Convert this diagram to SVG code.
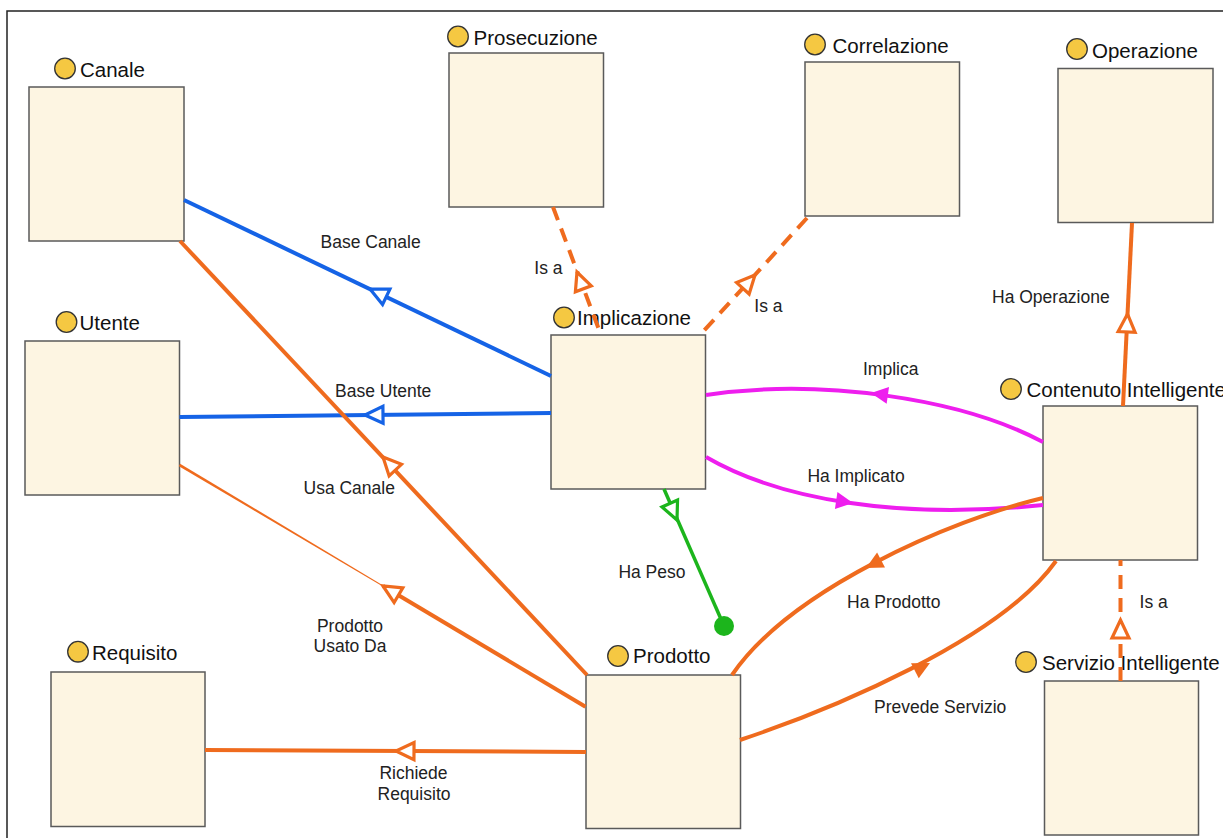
<svg xmlns="http://www.w3.org/2000/svg" width="1223" height="838" viewBox="0 0 1223 838">
<style>
.box{fill:#FDF5E2;stroke:#5a5a5a;stroke-width:1.5}
.dot{fill:#F5C842;stroke:#333;stroke-width:1.3}
.title{font-family:"Liberation Sans",Arial,sans-serif;font-size:20.5px;fill:#111}
.lbl{font-family:"Liberation Sans",Arial,sans-serif;font-size:17.5px;fill:#222}
.or{fill:none;stroke:#EF6B1E;stroke-width:4}
.dash{stroke-dasharray:14 9}
.bl{fill:none;stroke:#1563E6;stroke-width:4}
.mg{fill:none;stroke:#EE1EEE;stroke-width:4}
.gr{fill:none;stroke:#1CB51C;stroke-width:3.5}
.oaO{fill:#fff;stroke:#EF6B1E;stroke-width:3.2}
.oaB{fill:#fff;stroke:#1563E6;stroke-width:3.2}
.oaG{fill:#fff;stroke:#1CB51C;stroke-width:3.2}
.faO{fill:#EF6B1E;stroke:none}
.faM{fill:#EE1EEE;stroke:none}
</style>
<defs>
<path id="oa" d="M0,0 L-18,-8.5 L-18,8.5 Z"/>
<path id="fa" d="M0,0 L-17,-8.5 L-17,8.5 Z"/>
</defs>
<rect x="7" y="11" width="1240" height="850" fill="#fff" stroke="#222" stroke-width="1.5"/>

<g id="node-canale"><rect class="box" x="29" y="87" width="155" height="154"/><circle class="dot" cx="65" cy="68.5" r="10.3"/><text class="title" x="80" y="77">Canale</text></g>
<g id="node-prosecuzione"><rect class="box" x="449" y="53" width="154.5" height="154"/><circle class="dot" cx="458" cy="36.5" r="10.3"/><text class="title" x="473.5" y="44.5">Prosecuzione</text></g>
<g id="node-correlazione"><rect class="box" x="805" y="62" width="154.5" height="154"/><circle class="dot" cx="815" cy="44.5" r="10.3"/><text class="title" x="832.5" y="52.5">Correlazione</text></g>
<g id="node-operazione"><rect class="box" x="1058" y="68.5" width="155" height="154"/><circle class="dot" cx="1077" cy="49" r="10.3"/><text class="title" x="1092" y="57.5">Operazione</text></g>
<g id="node-utente"><rect class="box" x="25" y="341" width="154.5" height="154"/><circle class="dot" cx="66.5" cy="322" r="10.3"/><text class="title" x="79.5" y="330">Utente</text></g>
<g id="node-implicazione"><rect class="box" x="551" y="335" width="154.5" height="154"/><circle class="dot" cx="564" cy="317.5" r="10.3"/><text class="title" x="577" y="325">Implicazione</text></g>
<g id="node-contenuto"><rect class="box" x="1043" y="406" width="154.5" height="154"/><circle class="dot" cx="1011" cy="389" r="10.3"/><text class="title" x="1026.5" y="397">Contenuto Intelligente</text></g>
<g id="node-servizio"><rect class="box" x="1044.5" y="681" width="154" height="154"/><circle class="dot" cx="1026" cy="662" r="10.3"/><text class="title" x="1042" y="670">Servizio Intelligente</text></g>
<g id="node-prodotto"><rect class="box" x="586" y="675" width="154.5" height="153.5"/><circle class="dot" cx="618" cy="656" r="10.3"/><text class="title" x="633" y="663">Prodotto</text></g>
<g id="node-requisito"><rect class="box" x="51" y="672" width="154" height="154.5"/><circle class="dot" cx="78" cy="651.7" r="10.3"/><text class="title" x="92" y="660">Requisito</text></g>

<g id="connectors">
<!-- Base Canale -->
<path class="bl" d="M184,200 L551,376"/>
<use href="#oa" class="oaB" transform="translate(370,289) rotate(205.6)"/>
<text class="lbl" x="320.5" y="248">Base Canale</text>
<!-- Base Utente -->
<path class="bl" d="M179.5,417 L551,413"/>
<use href="#oa" class="oaB" transform="translate(365,415) rotate(179.4)"/>
<text class="lbl" x="335" y="396.5">Base Utente</text>
<!-- Usa Canale -->
<path class="or" d="M180,241 L587,675"/>
<use href="#oa" class="oaO" transform="translate(383,457) rotate(226.8)"/>
<text class="lbl" x="303.5" y="493.5">Usa Canale</text>
<!-- Prodotto Usato Da -->
<path fill="#EF6B1E" d="M180.1,463.8 L383.2,585.6 L382.8,586.4 L178.9,466.2 Z"/>
<path class="or" d="M383,586 L585.5,706.7"/>
<use href="#oa" class="oaO" transform="translate(383,586) rotate(210.8)"/>
<text class="lbl" x="350" y="631.5" text-anchor="middle">Prodotto</text>
<text class="lbl" x="350" y="652.3" text-anchor="middle">Usato Da</text>
<!-- Richiede Requisito -->
<path class="or" d="M586,752 L205,750"/>
<use href="#oa" class="oaO" transform="translate(396,751) rotate(180.3)"/>
<text class="lbl" x="413.5" y="779" text-anchor="middle">Richiede</text>
<text class="lbl" x="414" y="799.5" text-anchor="middle">Requisito</text>
<!-- Is a Prosecuzione -->
<path class="or dash" d="M553,207 L601,335"/>
<use href="#oa" class="oaO" transform="translate(577,272) rotate(249.4)"/>
<text class="lbl" x="534.3" y="274">Is a</text>
<!-- Is a Correlazione -->
<path class="or dash" d="M807,218 L700,335"/>
<use href="#oa" class="oaO" transform="translate(755,275) rotate(-47.6)"/>
<text class="lbl" x="754.3" y="311.7">Is a</text>
<!-- Ha Operazione -->
<path class="or" d="M1123,406 L1132,223"/>
<use href="#oa" class="oaO" transform="translate(1127.5,314) rotate(-87.2)"/>
<text class="lbl" x="992" y="303.3">Ha Operazione</text>
<!-- Implica -->
<path class="mg" d="M1043,442 C960,398 820,378 706,395"/>
<use href="#fa" class="faM" transform="translate(871,393) rotate(188)"/>
<text class="lbl" x="863" y="375">Implica</text>
<!-- Ha Implicato -->
<path class="mg" d="M706,457 C780,500 900,520 1043,505"/>
<use href="#fa" class="faM" transform="translate(853,503) rotate(8.5)"/>
<text class="lbl" x="807.4" y="481.7">Ha Implicato</text>
<!-- Ha Peso -->
<path class="gr" d="M664,489 L724,626"/>
<circle cx="724" cy="626" r="10" fill="#1CB51C"/>
<use href="#oa" class="oaG" transform="translate(677,520) rotate(66.3)"/>
<text class="lbl" x="618.4" y="578">Ha Peso</text>
<!-- Ha Prodotto -->
<path class="or" d="M1043,498 C950,520 790,590 732,675"/>
<use href="#fa" class="faO" transform="translate(866,568) rotate(152.3)"/>
<text class="lbl" x="847" y="607.7">Ha Prodotto</text>
<!-- Prevede Servizio -->
<path class="or" d="M740,740 C830,710 1000,640 1056,561"/>
<use href="#fa" class="faO" transform="translate(930,663) rotate(-27.1)"/>
<text class="lbl" x="874" y="713">Prevede Servizio</text>
<!-- Is a Servizio -->
<path class="or dash" d="M1120.5,681 L1120.5,560"/>
<use href="#oa" class="oaO" transform="translate(1120.5,620) rotate(-90)"/>
<text class="lbl" x="1139.6" y="607.7">Is a</text>
</g>
</svg>
